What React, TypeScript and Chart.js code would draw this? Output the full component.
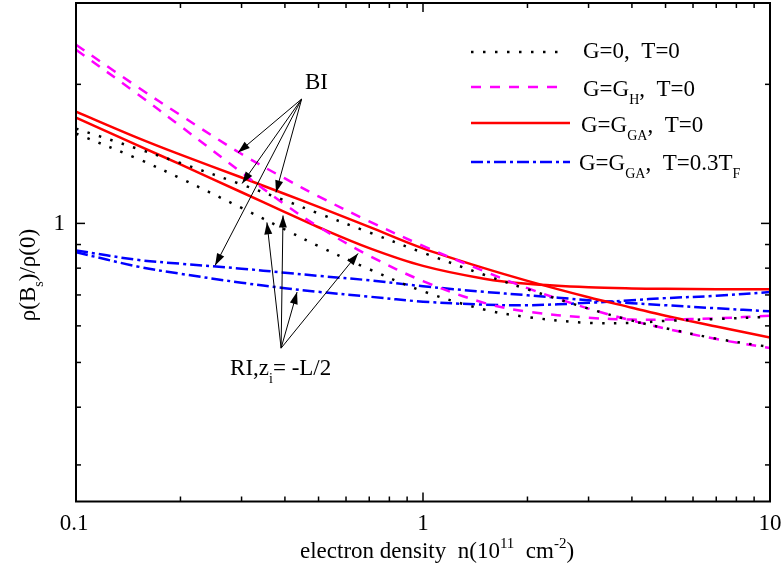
import React, { useEffect, useRef } from "react";
import { Chart, registerables } from "chart.js";

Chart.register(...registerables);

// ---- data ----
const density = [0.1, 0.15, 0.2, 0.3, 0.4, 0.5, 0.7, 1, 1.5, 2, 3, 4, 5, 7, 10];

const g0BI = [1.604, 1.452, 1.351, 1.214, 1.121, 1.051, 0.956, 0.864, 0.774, 0.72, 0.654, 0.616, 0.593, 0.563, 0.54];
const g0RI = [1.565, 1.382, 1.252, 1.08, 0.97, 0.893, 0.796, 0.713, 0.651, 0.627, 0.609, 0.609, 0.615, 0.621, 0.628];
const gHBI = [2.436, 1.977, 1.715, 1.413, 1.251, 1.144, 1.01, 0.894, 0.788, 0.724, 0.654, 0.616, 0.592, 0.562, 0.537];
const gHRI = [2.376, 1.909, 1.624, 1.289, 1.099, 0.983, 0.851, 0.75, 0.673, 0.644, 0.625, 0.619, 0.619, 0.623, 0.631];
const gGABI = [1.746, 1.534, 1.409, 1.257, 1.158, 1.086, 0.983, 0.883, 0.8, 0.751, 0.692, 0.657, 0.631, 0.598, 0.566];
const gGARI = [1.694, 1.477, 1.342, 1.168, 1.058, 0.981, 0.884, 0.809, 0.759, 0.74, 0.727, 0.723, 0.722, 0.72, 0.72];
const gGATBI = [0.874, 0.834, 0.818, 0.798, 0.782, 0.77, 0.753, 0.731, 0.711, 0.699, 0.682, 0.672, 0.665, 0.655, 0.645];
const gGATRI = [0.866, 0.807, 0.778, 0.744, 0.724, 0.711, 0.694, 0.677, 0.667, 0.665, 0.673, 0.682, 0.689, 0.697, 0.71];

const xMajorTicks = [0.1, 1, 10];
const xTickLabels = ["0.1", "1", "10"];
const xMinorTicks = [0.2, 0.3, 0.4, 0.5, 0.6, 0.7, 0.8, 0.9, 2, 3, 4, 5, 6, 7, 8, 9];
const yMajorTicks = [1];
const yTickLabels = ["1"];
const yMinorTicks = [0.3, 0.4, 0.5, 0.6, 0.7, 0.8, 0.9, 2];

// annotation anchors (data coordinates)
const biLabelAt = [0.457, 1.957];
const biOrigin = [0.447, 1.859];
const biTargets = [
  [0.293, 1.423],
  [0.301, 1.22],
  [0.377, 1.167],
  [0.2517, 0.811],
];
const riLabelAt = [0.278, 0.4696];
const riOrigin = [0.39, 0.537];
const riTargets = [
  [0.355, 1.005],
  [0.395, 1.04],
  [0.4335, 0.71],
  [0.65, 0.861],
];

type Part = { t: string; sub?: boolean; sup?: boolean };

const FONT = '"Liberation Serif", "Times New Roman", serif';
const FS = 23;

const styles: Record<string, { color: string; width: number; dash: number[] }> = {
  g0: { color: "#000000", width: 2.5, dash: [2.5, 9.5] },
  gH: { color: "#ff00ff", width: 2.5, dash: [10, 9] },
  gGA: { color: "#ff0000", width: 2.5, dash: [] },
  gGAT: { color: "#0000ff", width: 2.5, dash: [12, 4, 3, 4] },
};

const seriesList = [
  { key: "g0", label: "G=0, T=0 (BI)", data: g0BI },
  { key: "g0", label: "G=0, T=0 (RI)", data: g0RI },
  { key: "gH", label: "G=GH, T=0 (BI)", data: gHBI },
  { key: "gH", label: "G=GH, T=0 (RI)", data: gHRI },
  { key: "gGA", label: "G=GGA, T=0 (BI)", data: gGABI },
  { key: "gGA", label: "G=GGA, T=0 (RI)", data: gGARI },
  { key: "gGAT", label: "G=GGA, T=0.3TF (BI)", data: gGATBI },
  { key: "gGAT", label: "G=GGA, T=0.3TF (RI)", data: gGATRI },
];

const legendEntries: { key: string; parts: Part[] }[] = [
  { key: "g0", parts: [{ t: "G=0,  T=0" }] },
  { key: "gH", parts: [{ t: "G=G" }, { t: "H", sub: true }, { t: ",  T=0" }] },
  { key: "gGA", parts: [{ t: "G=G" }, { t: "GA", sub: true }, { t: ",  T=0" }] },
  { key: "gGAT", parts: [{ t: "G=G" }, { t: "GA", sub: true }, { t: ",  T=0.3T" }, { t: "F", sub: true }] },
];

const xTitle: Part[] = [{ t: "electron density  n(10" }, { t: "11", sup: true }, { t: "  cm" }, { t: "-2", sup: true }, { t: ")" }];
const yTitle: Part[] = [{ t: "\u03c1(B" }, { t: "s", sub: true }, { t: ")/\u03c1(0)" }];
const biLabel: Part[] = [{ t: "BI" }];
const riLabel: Part[] = [{ t: "RI,z" }, { t: "i", sub: true }, { t: "= -L/2" }];

function partFont(p: Part, size: number) {
  const s = p.sub ? Math.round(size * 0.62) : p.sup ? Math.round(size * 0.66) : size;
  return `${s}px ${FONT}`;
}

function richWidth(ctx: CanvasRenderingContext2D, parts: Part[], size: number) {
  let w = 0;
  for (const p of parts) {
    ctx.font = partFont(p, size);
    w += ctx.measureText(p.t).width;
  }
  return w;
}

function drawRich(ctx: CanvasRenderingContext2D, parts: Part[], x: number, y: number, size: number, align: "left" | "center" = "left") {
  let cx = align === "center" ? x - richWidth(ctx, parts, size) / 2 : x;
  ctx.textAlign = "left";
  ctx.textBaseline = "alphabetic";
  for (const p of parts) {
    ctx.font = partFont(p, size);
    const dy = p.sub ? size * 0.33 : p.sup ? -size * 0.42 : 0;
    ctx.fillText(p.t, cx, y + dy);
    cx += ctx.measureText(p.t).width;
  }
}

function arrow(ctx: CanvasRenderingContext2D, x1: number, y1: number, x2: number, y2: number) {
  ctx.setLineDash([]);
  ctx.lineWidth = 1;
  ctx.beginPath();
  ctx.moveTo(x1, y1);
  ctx.lineTo(x2, y2);
  ctx.stroke();
  const ang = Math.atan2(y2 - y1, x2 - x1);
  const L = 12;
  const W = 4;
  const c = Math.cos(ang);
  const s = Math.sin(ang);
  ctx.beginPath();
  ctx.moveTo(x2, y2);
  ctx.lineTo(x2 - L * c + W * s, y2 - L * s - W * c);
  ctx.lineTo(x2 - L * c - W * s, y2 - L * s + W * c);
  ctx.closePath();
  ctx.fill();
}

const overlay = {
  id: "overlay",
  afterDatasetsDraw(chart: any) {
    const { ctx, chartArea: a, scales } = chart;
    const xs = scales.x;
    const ys = scales.y;
    const px = (v: number) => xs.getPixelForValue(v);
    const py = (v: number) => ys.getPixelForValue(v);
    ctx.save();
    ctx.strokeStyle = "#000";
    ctx.fillStyle = "#000";
    ctx.setLineDash([]);

    const seg = (x1: number, y1: number, x2: number, y2: number) => {
      ctx.beginPath();
      ctx.moveTo(x1, y1);
      ctx.lineTo(x2, y2);
      ctx.stroke();
    };

    // inward ticks on all four sides
    ctx.lineWidth = 1.5;
    for (const v of xMajorTicks) {
      const x = px(v);
      seg(x, a.bottom, x, a.bottom - 9);
      seg(x, a.top, x, a.top + 9);
    }
    for (const v of xMinorTicks) {
      const x = px(v);
      seg(x, a.bottom, x, a.bottom - 5);
      seg(x, a.top, x, a.top + 5);
    }
    for (const v of yMajorTicks) {
      const y = py(v);
      seg(a.left, y, a.left + 9, y);
      seg(a.right, y, a.right - 9, y);
    }
    for (const v of yMinorTicks) {
      const y = py(v);
      seg(a.left, y, a.left + 5, y);
      seg(a.right, y, a.right - 5, y);
    }

    // frame
    ctx.lineWidth = 2;
    ctx.strokeRect(a.left, a.top, a.right - a.left, a.bottom - a.top);

    // tick labels
    ctx.font = `${FS}px ${FONT}`;
    ctx.textBaseline = "alphabetic";
    ctx.textAlign = "center";
    xMajorTicks.forEach((v, i) => {
      ctx.fillText(xTickLabels[i], px(v) - (i === 0 ? 2 : 0), a.bottom + 28);
    });
    ctx.textAlign = "right";
    yMajorTicks.forEach((v, i) => {
      ctx.fillText(yTickLabels[i], a.left - 11, py(v) + 7);
    });

    // axis titles
    drawRich(ctx, xTitle, 300, 558, FS, "left");
    ctx.save();
    ctx.translate(35, 275);
    ctx.rotate(-Math.PI / 2);
    drawRich(ctx, yTitle, 0, 0, FS, "center");
    ctx.restore();

    // legend
    const rows = [
      { ly: 52, ty: 58, tx: 583, x2: 562 },
      { ly: 87, ty: 96, tx: 583, x2: 562 },
      { ly: 123, ty: 132, tx: 581, x2: 570 },
      { ly: 162, ty: 170, tx: 579, x2: 570 },
    ];
    legendEntries.forEach((e, i) => {
      const st = styles[e.key];
      const r = rows[i];
      ctx.save();
      ctx.strokeStyle = st.color;
      ctx.lineWidth = st.width;
      ctx.setLineDash(st.dash);
      ctx.beginPath();
      ctx.moveTo(471, r.ly);
      ctx.lineTo(r.x2, r.ly);
      ctx.stroke();
      ctx.restore();
      ctx.fillStyle = "#000";
      drawRich(ctx, e.parts, r.tx, r.ty, FS, "left");
    });

    // annotations
    ctx.fillStyle = "#000";
    ctx.strokeStyle = "#000";
    drawRich(ctx, biLabel, px(biLabelAt[0]), py(biLabelAt[1]), FS, "left");
    drawRich(ctx, riLabel, px(riLabelAt[0]), py(riLabelAt[1]), FS, "left");
    for (const t of biTargets) arrow(ctx, px(biOrigin[0]), py(biOrigin[1]), px(t[0]), py(t[1]));
    for (const t of riTargets) arrow(ctx, px(riOrigin[0]), py(riOrigin[1]), px(t[0]), py(t[1]));

    ctx.restore();
  },
};

export default function App() {
  const ref = useRef<HTMLCanvasElement | null>(null);
  useEffect(() => {
    if (!ref.current) return;
    const chart = new Chart(ref.current, {
      type: "line",
      data: {
        datasets: seriesList.map((s) => ({
          label: s.label,
          data: density.map((x, i) => ({ x, y: s.data[i] })),
          borderColor: styles[s.key].color,
          borderWidth: styles[s.key].width,
          borderDash: styles[s.key].dash,
          pointRadius: 0,
          fill: false,
          tension: 0.35,
        })),
      },
      options: {
        animation: false,
        responsive: false,
        devicePixelRatio: 1,
        layout: { padding: { left: 76, right: 12, top: 3, bottom: 76.5 } },
        plugins: { legend: { display: false }, tooltip: { enabled: false } },
        scales: {
          x: { type: "logarithmic", min: 0.1, max: 10, display: false },
          y: { type: "logarithmic", min: 0.25, max: 3, display: false },
        },
      },
      plugins: [overlay],
    });
    return () => chart.destroy();
  }, []);
  return (
    <div style={{ position: "absolute", left: 0, top: 0, width: 782, height: 578, background: "#fff" }}>
      <canvas ref={ref} width={782} height={578} style={{ width: 782, height: 578 }} />
    </div>
  );
}
